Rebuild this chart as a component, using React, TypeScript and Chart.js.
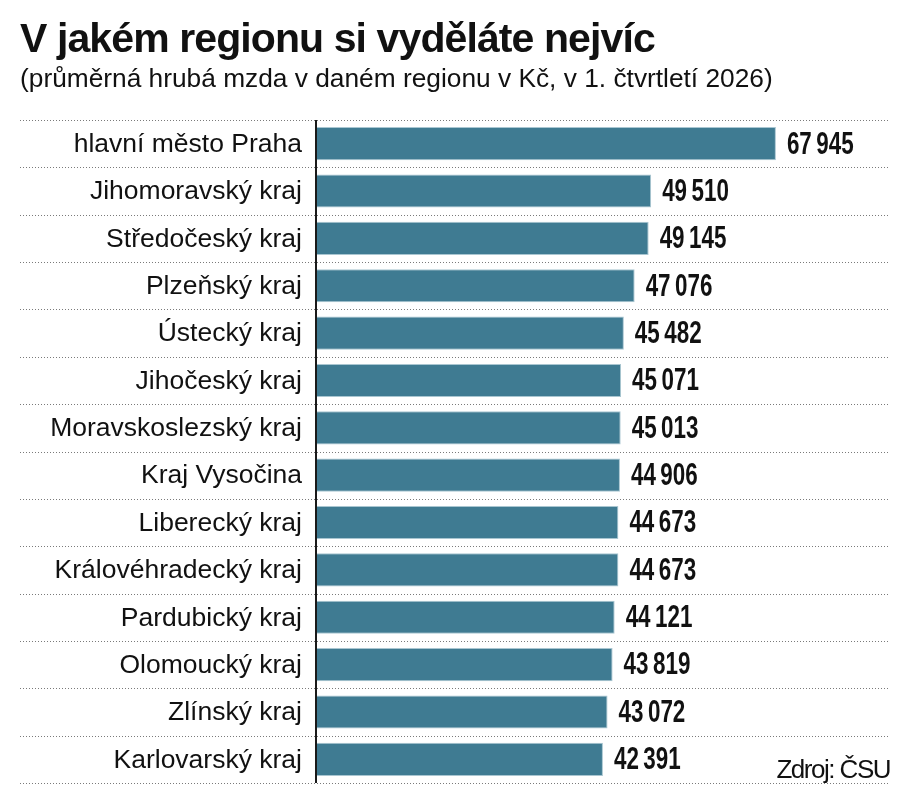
import React, { useEffect, useRef } from "react";
import { Chart, registerables } from "chart.js";

Chart.register(...registerables);

// průměrná hrubá mzda, 1. čtvrtletí 2026 (Kč)
const regions = [
  "hlavní město Praha",
  "Jihomoravský kraj",
  "Středočeský kraj",
  "Plzeňský kraj",
  "Ústecký kraj",
  "Jihočeský kraj",
  "Moravskoslezský kraj",
  "Kraj Vysočina",
  "Liberecký kraj",
  "Královéhradecký kraj",
  "Pardubický kraj",
  "Olomoucký kraj",
  "Zlínský kraj",
  "Karlovarský kraj",
];
const wages = [
  67945, 49510, 49145, 47076, 45482, 45071, 45013, 44906, 44673, 44673, 44121,
  43819, 43072, 42391,
];

const BAR = "#3f7b92";
const FONT = '"Liberation Sans", Arial, sans-serif';

const fmt = (v: number) =>
  String(v).replace(/\B(?=(\d{3})+(?!\d))/g, "\u2009");

// dotted separators, region names and value labels
const decorations = {
  id: "decorations",
  afterDraw(chart: any) {
    const { ctx, chartArea } = chart;
    const y = chart.scales.y;
    const half = (y.getPixelForValue(1) - y.getPixelForValue(0)) / 2;

    ctx.save();
    ctx.strokeStyle = "#7a7a7a";
    ctx.lineWidth = 1;
    ctx.setLineDash([1, 2]);
    for (let i = 0; i <= regions.length; i++) {
      const py = Math.round(y.getPixelForValue(i) - half) + 0.5;
      ctx.beginPath();
      ctx.moveTo(20, py);
      ctx.lineTo(chartArea.right, py);
      ctx.stroke();
    }
    ctx.setLineDash([]);

    // axis line on top of separators
    ctx.strokeStyle = "#1a1a1a";
    ctx.lineWidth = 2;
    ctx.beginPath();
    ctx.moveTo(chartArea.left, y.getPixelForValue(0) - half);
    ctx.lineTo(chartArea.left, y.getPixelForValue(regions.length - 1) + half);
    ctx.stroke();

    ctx.fillStyle = "#111";
    ctx.textBaseline = "middle";
    ctx.textAlign = "right";
    ctx.font = `26.5px ${FONT}`;
    regions.forEach((r, i) => {
      ctx.fillText(r, chartArea.left - 14, y.getPixelForValue(i) + 1);
    });

    const meta = chart.getDatasetMeta(0);
    ctx.textAlign = "left";
    ctx.font = `bold 32px ${FONT}`;
    meta.data.forEach((bar: any, i: number) => {
      ctx.save();
      ctx.translate(bar.x + 11, bar.y + 1);
      ctx.scale(0.7, 1);
      ctx.fillText(fmt(wages[i]), 0, 0);
      ctx.restore();
    });
    ctx.restore();
  },
};

export default function App() {
  const canvasRef = useRef<HTMLCanvasElement>(null);

  useEffect(() => {
    document.body.style.margin = "0";
    if (!canvasRef.current) return;
    const chart = new Chart(canvasRef.current, {
      type: "bar",
      data: {
        labels: regions,
        datasets: [
          {
            data: wages,
            backgroundColor: BAR,
            borderColor: "#a9c6d1",
            borderWidth: 1,
            borderSkipped: "left",
            categoryPercentage: 1,
            barPercentage: 0.7,
          },
        ],
      },
      options: {
        indexAxis: "y",
        responsive: false,
        animation: false,
        layout: { padding: { left: 316, right: 20, top: 120, bottom: 21 } },
        plugins: {
          legend: { display: false },
          tooltip: { enabled: false },
        },
        scales: {
          x: { display: false, min: 0, max: 84800 },
          y: {
            display: true,
            ticks: { display: false },
            grid: { display: false },
            border: { display: false },
            afterFit: (s: any) => {
              s.width = 0;
            },
          },
        },
      },
      plugins: [decorations],
    });
    return () => chart.destroy();
  }, []);

  return (
    <div
      style={{
        position: "relative",
        width: 910,
        height: 804,
        background: "#fff",
        fontFamily: FONT,
        color: "#111",
      }}
    >
      <canvas
        ref={canvasRef}
        width={910}
        height={804}
        style={{ position: "absolute", left: 0, top: 0 }}
      />
      <div
        style={{
          position: "absolute",
          left: 20,
          top: 14,
          fontSize: 41,
          fontWeight: 700,
          letterSpacing: -0.9,
          lineHeight: "48px",
          whiteSpace: "nowrap",
        }}
      >
        V jakém regionu si vyděláte nejvíc
      </div>
      <div
        style={{
          position: "absolute",
          left: 20,
          top: 62,
          fontSize: 26.3,
          lineHeight: "32px",
          whiteSpace: "nowrap",
        }}
      >
        (průměrná hrubá mzda v daném regionu v Kč, v 1. čtvrtletí 2026)
      </div>
      <div
        style={{
          position: "absolute",
          right: 20,
          top: 754,
          fontSize: 26,
          letterSpacing: -1.5,
          lineHeight: "30px",
          whiteSpace: "nowrap",
        }}
      >
        Zdroj: ČSU
      </div>
    </div>
  );
}
